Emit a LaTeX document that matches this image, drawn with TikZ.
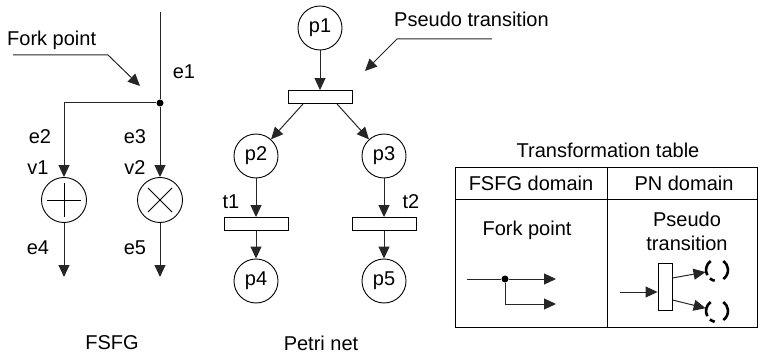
\documentclass[tikz,border=0pt]{standalone}
\usepackage{fontspec}
\setmainfont{Liberation Sans}
\usetikzlibrary{arrows.meta}
\begin{document}
\begin{tikzpicture}[x=1pt,y=-1pt,
  lbl/.style={font=\fontsize{20}{23}\selectfont, inner sep=0pt},
  conn/.style={draw=black!85, line width=1pt},
  arr/.style={conn, -{Triangle[length=12pt,width=11pt]}},
  place/.style={draw, circle, line width=0.9pt, minimum size=44pt, inner sep=0pt,
    font=\fontsize{20}{23}\selectfont},
  op/.style={draw, circle, line width=0.9pt, minimum size=45pt, inner sep=0pt},
  bar/.style={draw, line width=0.9pt, fill=white, minimum width=64pt, minimum height=13pt, inner sep=0pt},
  dot/.style={circle, fill=black, minimum size=7pt, inner sep=0pt},
  ghost/.style={circle, minimum size=23pt, inner sep=0pt},
  ghostarc/.style={line width=2.6pt}]
\useasboundingbox (0,0) rectangle (760,358);

% ---------- FSFG ----------
\coordinate (e1top) at (160,12);
\node[dot] (fork) at (160,103) {};
\coordinate (bend) at (64,103);
\node[op] (v1) at (64,200) {};
\node[op] (v2) at (160,200) {};
\draw[line width=0.9pt] ([xshift=-17pt]v1.center) -- ([xshift=17pt]v1.center)
  ([yshift=-17pt]v1.center) -- ([yshift=17pt]v1.center);
\draw[line width=0.9pt] ([shift={(-12pt,-12pt)}]v2.center) -- ([shift={(12pt,12pt)}]v2.center)
  ([shift={(-12pt,12pt)}]v2.center) -- ([shift={(12pt,-12pt)}]v2.center);
\coordinate (out1) at (64,277);
\coordinate (out2) at (160,277);

\draw[conn] (e1top) -- (fork);
\draw[arr] (fork) -- (bend) -- (v1);
\draw[arr] (fork) -- (v2);
\draw[arr] (v1) -- (out1);
\draw[arr] (v2) -- (out2);

\node[lbl] (le1) at (184,72) {e1};
\node[lbl] (le2) at (40,137) {e2};
\node[lbl] (le3) at (135,137) {e3};
\node[lbl] (lv1) at (38,168) {v1};
\node[lbl] (lv2) at (135,168) {v2};
\node[lbl] (le4) at (38,248) {e4};
\node[lbl] (le5) at (135,248) {e5};

\node[lbl, anchor=west] (forklbl) at (7,40) {Fork point};
\coordinate (fl1) at (13,55);
\coordinate (fl2) at (108,55);
\coordinate (fl3) at (140,86);
\draw[arr] (fl1) -- (fl2) -- (fl3);

\node[lbl] (cap1) at (112,343) {FSFG};

% ---------- Petri net ----------
\node[place] (p1) at (320,28) {p1};
\node[bar] (t0) at (320,97) {};
\node[place] (p2) at (256,156) {p2};
\node[place] (p3) at (384,156) {p3};
\node[bar] (t1) at (256,224) {};
\node[bar] (t2) at (384,224) {};
\node[place] (p4) at (256,281) {p4};
\node[place] (p5) at (384,281) {p5};

\draw[arr] (p1) -- (t0);
\draw[arr] ([xshift=-17pt]t0.south) -- (p2);
\draw[arr] ([xshift=17pt]t0.south) -- (p3);
\draw[arr] (p2) -- (t1);
\draw[arr] (p3) -- (t2);
\draw[arr] (t1) -- (p4);
\draw[arr] (t2) -- (p5);

\node[lbl] (lt1) at (231,202) {t1};
\node[lbl] (lt2) at (411,202) {t2};

\node[lbl, anchor=west] (pslbl) at (394,19) {Pseudo transition};
\coordinate (pl1) at (492,39);
\coordinate (pl2) at (397,39);
\coordinate (pl3) at (365,71);
\draw[arr] (pl1) -- (pl2) -- (pl3);

\node[lbl] (cap2) at (321,343) {Petri net};

% ---------- Transformation table ----------
\node[lbl] (ttitle) at (608,150) {Transformation table};
\coordinate (tbnw) at (455,167);
\coordinate (tbse) at (757,327);
\draw[line width=0.9pt] (tbnw) rectangle (tbse);
\coordinate (hl) at (455,199);
\coordinate (hr) at (757,199);
\draw[line width=0.9pt] (hl) -- (hr);
\coordinate (vt) at (607,167);
\coordinate (vb) at (607,327);
\draw[line width=0.9pt] (vt) -- (vb);

\node[lbl] (h1) at (531,183) {FSFG domain};
\node[lbl] (h2) at (684,183) {PN domain};
\node[lbl] (c1) at (527,230) {Fork point};
\node[lbl, align=center, font=\fontsize{20}{24}\selectfont] (c2) at (687,231) {Pseudo\\transition};

% fork point symbol
\coordinate (fa) at (467,279);
\node[dot] (fd) at (505,279) {};
\coordinate (fb1) at (556,279);
\coordinate (fc) at (505,304);
\coordinate (fb2) at (556,304);
\draw[conn] (fa) -- (fd);
\draw[arr] (fd) -- (fb1);
\draw[arr] (fd) -- (fc) -- (fb2);

% pseudo transition symbol with two open (dashed) places
\node[draw, line width=0.9pt, fill=white, minimum width=14pt, minimum height=47pt, inner sep=0pt] (ptb) at (665,287) {};
\coordinate (pin) at (620,292);
\node[ghost] (g1) at (717,270) {};
\node[ghost] (g2) at (717,311) {};
\foreach \g in {g1,g2} {
  \draw[ghostarc] (\g.center) ++(-55:11pt) arc[start angle=-55, end angle=55, radius=11pt];
  \draw[ghostarc] (\g.center) ++(125:11pt) arc[start angle=125, end angle=208, radius=11pt];
  \draw[ghostarc] (\g.center) ++(230:11pt) arc[start angle=230, end angle=258, radius=11pt];
}
\draw[arr] (pin) -- (pin -| ptb.west);
\draw[arr] ([yshift=9pt]ptb.east) -- (g1);
\draw[arr] ([yshift=-13pt]ptb.east) -- (g2);
\end{tikzpicture}
\end{document}
